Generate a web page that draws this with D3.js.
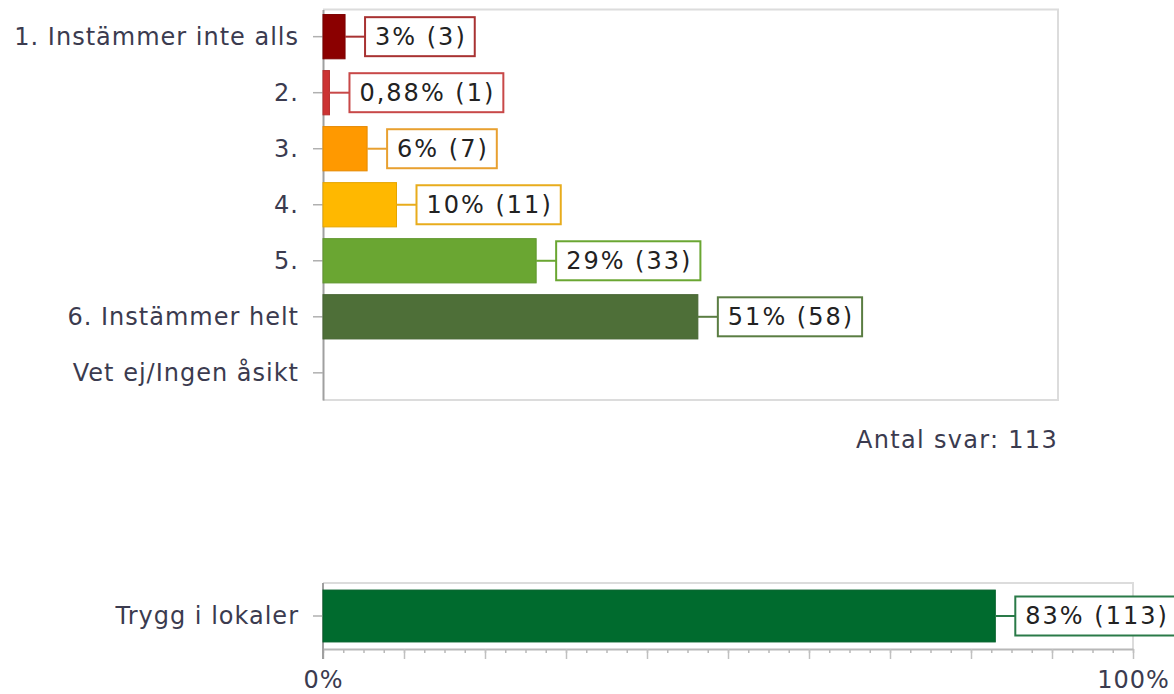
<!DOCTYPE html>
<html lang="sv">
<head>
<meta charset="utf-8">
<title>Trygg i lokaler</title>
<script src="https://cdn.jsdelivr.net/npm/d3@7"></script>
<style>
  body { margin: 0; background: #fff; }
  text { font-family: "DejaVu Sans", Verdana, sans-serif; font-size: 24px; letter-spacing: 1px; fill: #3b3b4f; }
  .value text { letter-spacing: 2px; }
</style>
</head>
<body>
<svg id="chart" width="1174" height="694"></svg>
<script>

// answers per alternative
var categories = ["1. Instämmer inte alls", "2.", "3.", "4.", "5.", "6. Instämmer helt", "Vet ej/Ingen åsikt"]
var percents   = [3, 0.88, 6, 10, 29, 51, 0]
var counts     = [3, 1, 7, 11, 33, 58, 0]
var barColors  = ["#8b0000", "#cc3333", "#ff9900", "#ffb800", "#6aa632", "#4e6f38", "#999"]
var boxColors  = ["#a83232", "#c84848", "#e8a030", "#e8ac1c", "#6aa632", "#5a7d42", "#999"]

var totalAnswers = 113

// summary bar
var summaryLabel   = "Trygg i lokaler"
var summaryPercent = 83
var summaryCount   = 113
var summaryColor   = "#006b2e"
var summaryBox     = "#2a7a48"

var axisTicks = [0, 100]

var svg = d3.select("#chart")

var fmt = p => (p < 1 ? p.toFixed(2) : String(p)).replace(".", ",") + "%"

// ---------- top chart ----------
var main = {left: 323, right: 1058, top: 9.5, bottom: 400}

var x = d3.scaleLinear().domain([0, 100]).range([main.left, main.right])
var y = d3.scaleBand().domain(categories)
  .range([main.top, main.bottom])
  .paddingInner(0.21).paddingOuter(0.09)

// frame
svg.append("path")
  .attr("d", `M${main.left},${main.top}H${main.right}V${main.bottom}H${main.left}`)
  .attr("fill", "none").attr("stroke", "#dcdcdc").attr("stroke-width", 2)

var yAxis = svg.append("g")
  .attr("transform", `translate(${main.left},0)`)
  .call(d3.axisLeft(y).tickSize(10).tickPadding(14).tickSizeOuter(0))
yAxis.select(".domain").attr("stroke", "#a0a0a0").attr("stroke-width", 2)
yAxis.selectAll(".tick line").attr("stroke", "#b0b0b0").attr("stroke-width", 1.5)
yAxis.selectAll(".tick text").attr("font-size", null).attr("font-family", null).attr("fill", null)
  .attr("dy", "0.35em")

var rows = categories.map((c, i) => ({cat: c, p: percents[i], n: counts[i], fill: barColors[i], box: boxColors[i]}))
  .filter(d => d.n > 0)

svg.append("g").selectAll("rect")
  .data(rows)
  .enter().append("rect")
    .attr("x", x(0))
    .attr("y", d => y(d.cat))
    .attr("width", d => x(d.p) - x(0))
    .attr("height", y.bandwidth())
    .attr("fill", d => d.fill)
    .attr("stroke", d => d3.color(d.fill).darker(0.3))
    .attr("stroke-width", 1)

function valueBox(g, x0, cy, text, color) {
  var gap = 20, pad = 10, h = 39
  g.append("line")
    .attr("x1", x0).attr("x2", x0 + gap)
    .attr("y1", cy).attr("y2", cy)
    .attr("stroke", color).attr("stroke-width", 2)
  var rect = g.append("rect")
    .attr("x", x0 + gap).attr("y", cy - h / 2)
    .attr("height", h)
    .attr("fill", "#fff").attr("stroke", color).attr("stroke-width", 2)
  var t = g.append("text")
    .attr("x", x0 + gap + pad).attr("y", cy)
    .attr("dy", "0.35em")
    .style("fill", "#222")
    .text(text)
  rect.attr("width", t.node().getComputedTextLength() + pad * 2 - 2)
}

var labels = svg.append("g").attr("class", "value")
rows.forEach(d => valueBox(labels, x(d.p), y(d.cat) + y.bandwidth() / 2, `${fmt(d.p)} (${d.n})`, d.box))

svg.append("text")
  .attr("x", main.right)
  .attr("y", 448)
  .attr("text-anchor", "end")
  .style("letter-spacing", "1.3px")
  .text("Antal svar: " + totalAnswers)

// ---------- bottom chart ----------
var bot = {left: 323, right: 1133, top: 583, bottom: 649}

var x2 = d3.scaleLinear().domain([0, 100]).range([bot.left, bot.right])
var y2 = d3.scaleBand().domain([summaryLabel]).range([bot.top, bot.bottom]).padding(0.12)

svg.append("path")
  .attr("d", `M${bot.left},${bot.top}H${bot.right}V${bot.bottom}`)
  .attr("fill", "none").attr("stroke", "#dcdcdc").attr("stroke-width", 2)

// minor ticks every 2.5%, major every 10%
var xMinor = svg.append("g")
  .attr("transform", `translate(0,${bot.bottom})`)
  .call(d3.axisBottom(x2).tickValues(d3.range(0, 100.1, 2.5)).tickSize(4).tickFormat("").tickSizeOuter(0))
xMinor.select(".domain").attr("stroke", "#b8b8b8").attr("stroke-width", 2)
xMinor.selectAll(".tick line").attr("stroke", "#b8b8b8").attr("stroke-width", 1.5)

var xMajor = svg.append("g")
  .attr("transform", `translate(0,${bot.bottom})`)
  .call(d3.axisBottom(x2).tickValues(d3.range(0, 100.1, 10)).tickSize(10).tickPadding(12)
    .tickFormat(d => axisTicks.includes(d) ? d + "%" : ""))
xMajor.select(".domain").remove()
xMajor.selectAll(".tick line").attr("stroke", "#c0c0c0").attr("stroke-width", 1.5)
xMajor.selectAll(".tick text").attr("font-size", null).attr("font-family", null).attr("fill", null)

var yAxis2 = svg.append("g")
  .attr("transform", `translate(${bot.left},0)`)
  .call(d3.axisLeft(y2).tickSize(10).tickPadding(14).tickSizeOuter(0))
yAxis2.select(".domain").attr("d", `M0,${bot.top}V${bot.bottom + 10}`)
  .attr("stroke", "#a0a0a0").attr("stroke-width", 2)
yAxis2.selectAll(".tick line").attr("stroke", "#b0b0b0").attr("stroke-width", 1.5)
yAxis2.selectAll(".tick text").attr("font-size", null).attr("font-family", null).attr("fill", null)
  .attr("dy", "0.35em")

svg.append("rect")
  .attr("x", x2(0))
  .attr("y", y2(summaryLabel))
  .attr("width", x2(summaryPercent) - x2(0))
  .attr("height", y2.bandwidth())
  .attr("fill", summaryColor)
  .attr("stroke", d3.color(summaryColor).darker(0.3))

valueBox(svg.append("g").attr("class", "value"), x2(summaryPercent), y2(summaryLabel) + y2.bandwidth() / 2,
  `${fmt(summaryPercent)} (${summaryCount})`, summaryBox)

</script>
</body>
</html>
